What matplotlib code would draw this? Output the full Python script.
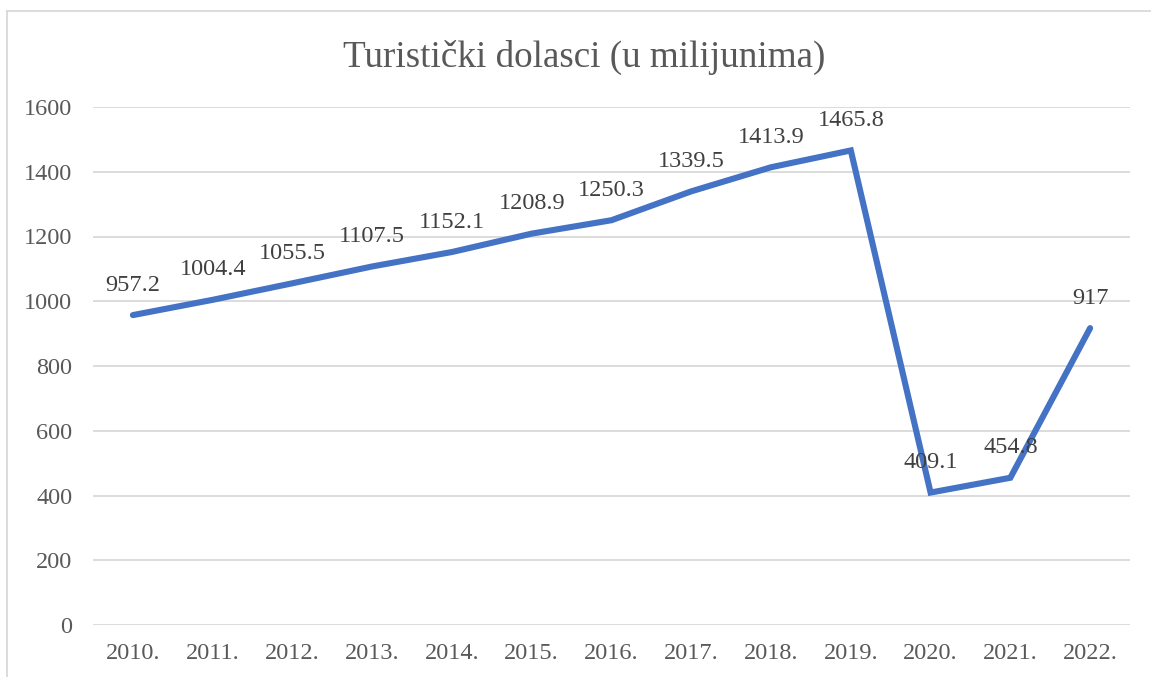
import matplotlib
matplotlib.use("Agg")
import matplotlib.pyplot as plt
from matplotlib.lines import Line2D

years = ["2010.", "2011.", "2012.", "2013.", "2014.", "2015.", "2016.",
         "2017.", "2018.", "2019.", "2020.", "2021.", "2022."]
arrivals = [957.2, 1004.4, 1055.5, 1107.5, 1152.1, 1208.9, 1250.3,
            1339.5, 1413.9, 1465.8, 409.1, 454.8, 917]
value_labels = ["957.2", "1004.4", "1055.5", "1107.5", "1152.1", "1208.9", "1250.3",
                "1339.5", "1413.9", "1465.8", "409.1", "454.8", "917"]
y_ticks = [0, 200, 400, 600, 800, 1000, 1200, 1400, 1600]
title = "Turistički dolasci (u milijunima)"

plt.rcParams['font.family'] = ['Liberation Serif', 'DejaVu Serif']
text_color = "#595959"
grid_color = "#D9D9D9"
line_color = "#4472C4"

fig = plt.figure(figsize=(11.51, 6.77), dpi=100)
ax = fig.add_axes([93/1151, 1-625/677, (1130-93)/1151, (625-107)/677])

x = list(range(len(years)))
ax.plot(x, arrivals, color=line_color, linewidth=4.4, solid_capstyle='round',
        solid_joinstyle='miter', zorder=3)

for xi, v, lab in zip(x, arrivals, value_labels):
    ax.annotate(lab, (xi, v), xytext=(0, 21.5), textcoords='offset points',
                ha='center', va='center', fontsize=17.5, color="#404040", zorder=4)

ax.set_xlim(-0.5, len(years) - 0.5)
ax.set_ylim(0, 1600)
ax.set_yticks(y_ticks)
ax.set_yticklabels([str(t) for t in y_ticks])
ax.set_xticks(x)
ax.set_xticklabels(years)
ax.tick_params(axis='both', length=0, labelsize=17.5, labelcolor=text_color)
ax.tick_params(axis='y', pad=15)
ax.tick_params(axis='x', pad=13)
ax.grid(axis='y', color=grid_color, linewidth=1.3, zorder=0)
ax.set_axisbelow(True)
for s in ax.spines.values():
    s.set_visible(False)

fig.text(584/1151, 1-57/677, title, ha='center', va='center', fontsize=26.7,
         color=text_color)

# chart border (top and left visible)
fig.add_artist(Line2D([7/1151, 1], [1-11/677, 1-11/677], transform=fig.transFigure,
                      color=grid_color, linewidth=1.3))
fig.add_artist(Line2D([7/1151, 7/1151], [0, 1-11/677], transform=fig.transFigure,
                      color=grid_color, linewidth=1.3))

fig.savefig("out.png", dpi=100)
